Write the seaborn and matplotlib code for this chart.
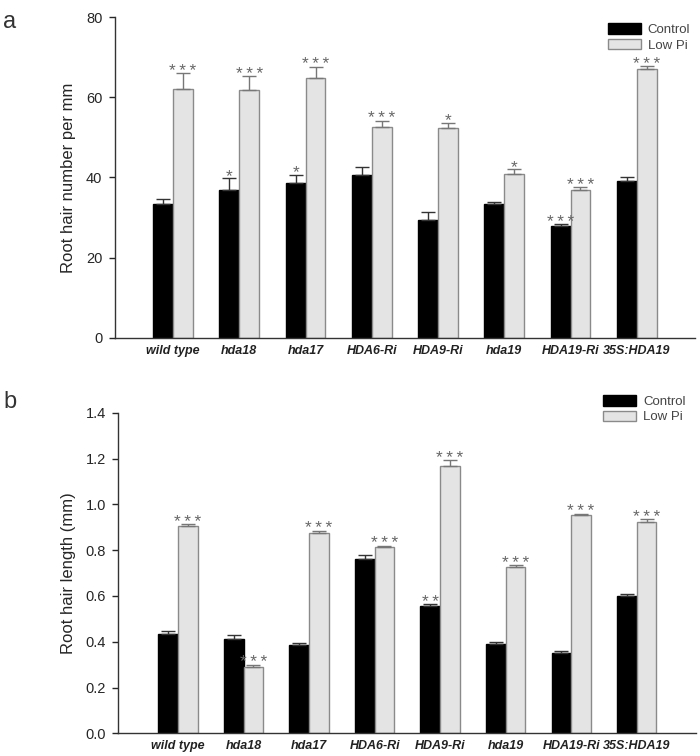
"""
Root hair number and length under control / low Pi
"""
import matplotlib
matplotlib.use('Agg')
import matplotlib.pyplot as plt
import matplotlib.patches as mpatches
import seaborn as sns
import pandas as pd
import numpy as np

genotypes = ['wild type', 'hda18', 'hda17', 'HDA6-Ri', 'HDA9-Ri', 'hda19', 'HDA19-Ri', '35S:HDA19']
treatments = ['Control', 'Low Pi']

# panel a: root hair number per mm
num_control = [33.5, 37.0, 38.5, 40.5, 29.3, 33.5, 28.0, 39.0]
num_control_err = [1.2, 2.8, 2.2, 2.0, 2.0, 0.3, 0.4, 1.0]
num_lowpi = [62.0, 61.7, 64.8, 52.7, 52.3, 40.8, 37.0, 67.0]
num_lowpi_err = [4.0, 3.5, 2.8, 1.5, 1.3, 1.2, 0.6, 0.8]
num_control_sig = ['', '*', '*', '', '', '', '***', '']
num_lowpi_sig = ['***', '***', '***', '***', '*', '*', '***', '***']

# panel b: root hair length (mm)
len_control = [0.435, 0.41, 0.385, 0.76, 0.555, 0.39, 0.35, 0.60]
len_control_err = [0.010, 0.020, 0.010, 0.020, 0.010, 0.008, 0.010, 0.010]
len_lowpi = [0.905, 0.29, 0.877, 0.812, 1.168, 0.725, 0.952, 0.925]
len_lowpi_err = [0.008, 0.010, 0.008, 0.008, 0.025, 0.008, 0.008, 0.010]
len_control_sig = ['', '', '', '', '**', '', '', '']
len_lowpi_sig = ['***'] * 8

colors = {'Control': '#000000', 'Low Pi': '#e4e4e4'}
edges = {'Control': '#000000', 'Low Pi': '#8a8a8a'}

sns.set_style('white')
plt.rcParams['font.family'] = ['Liberation Sans', 'DejaVu Sans']


def draw_panel(ax, ctrl, ctrl_err, low, low_err, ctrl_sig, low_sig, ylabel, ymax, ystep, fmt, xlim, legend_anchor):
    df = pd.DataFrame({
        'genotype': genotypes * 2,
        'treatment': ['Control'] * len(genotypes) + ['Low Pi'] * len(genotypes),
        'value': list(ctrl) + list(low),
    })
    sns.barplot(data=df, x='genotype', y='value', hue='treatment', order=genotypes,
                hue_order=treatments, palette=colors, width=0.6, errorbar=None,
                saturation=1, ax=ax)
    errs = [ctrl_err, low_err]
    sigs = [ctrl_sig, low_sig]
    vals = [ctrl, low]
    bar_containers = list(ax.containers)[:2]
    for k, cont in enumerate(bar_containers):
        tr = treatments[k]
        for i, bar in enumerate(cont):
            bar.set_edgecolor(edges[tr])
            bar.set_linewidth(1.0)
            xc = bar.get_x() + bar.get_width() / 2
            top = vals[k][i] + errs[k][i]
            ax.errorbar(xc, vals[k][i], yerr=[[0], [errs[k][i]]], fmt='none',
                        ecolor='#333333' if k == 0 else '#777777', elinewidth=1.0,
                        capsize=5, capthick=1.0)
            if sigs[k][i]:
                # thin spaces between the stars, as in the original figure
                ax.annotate('\u2009'.join(sigs[k][i]), (xc, top), xytext=(0, -4),
                            textcoords='offset points', ha='center', va='bottom',
                            fontsize=12.5, color='#666666')
    ax.set_xlim(*xlim)
    ax.set_ylim(0, ymax)
    ax.set_yticks(np.arange(0, ymax + ystep / 2, ystep))
    ax.set_yticklabels([fmt.format(t) for t in np.arange(0, ymax + ystep / 2, ystep)], fontsize=10.5)
    ax.set_xticks(range(len(genotypes)))
    ax.set_xticklabels(genotypes, fontsize=9, style='italic', fontweight='bold', color='#222222')
    ax.tick_params(axis='x', length=0, pad=5)
    ax.tick_params(axis='y', length=4, width=1, direction='out', left=True, pad=5)
    ax.set_xlabel('')
    ax.set_ylabel(ylabel, fontsize=12, labelpad=7)
    sns.despine(ax=ax)
    for s in ['left', 'bottom']:
        ax.spines[s].set_color('#333333')
        ax.spines[s].set_linewidth(1.0)
    handles = [mpatches.Patch(facecolor=colors[t], edgecolor=edges[t], label=t) for t in treatments]
    ax.legend(handles=handles, loc='upper left', bbox_to_anchor=legend_anchor,
              frameon=False, fontsize=9.5, handlelength=2.5, handleheight=0.85,
              labelspacing=0.2, handletextpad=0.5, borderaxespad=0, borderpad=0,
              labelcolor='#444444')


fig = plt.figure(figsize=(7, 7.56), dpi=100)
ax_a = fig.add_axes([0.164, 0.553, 0.829, 0.4245])
ax_b = fig.add_axes([0.169, 0.030, 0.825, 0.424])

draw_panel(ax_a, num_control, num_control_err, num_lowpi, num_lowpi_err,
           num_control_sig, num_lowpi_sig, 'Root hair number per mm', 80, 20, '{:.0f}',
           (-0.88, 7.88), (0.85, 0.98))
draw_panel(ax_b, len_control, len_control_err, len_lowpi, len_lowpi_err,
           len_control_sig, len_lowpi_sig, 'Root hair length (mm)', 1.4, 0.2, '{:.1f}',
           (-0.91, 7.9), (0.84, 1.055))

fig.text(0.005, 0.985, 'a', fontsize=17, va='top', ha='left', color='#333333')
fig.text(0.005, 0.483, 'b', fontsize=17, va='top', ha='left', color='#333333')

plt.savefig('out.png', dpi=100)
plt.close()
